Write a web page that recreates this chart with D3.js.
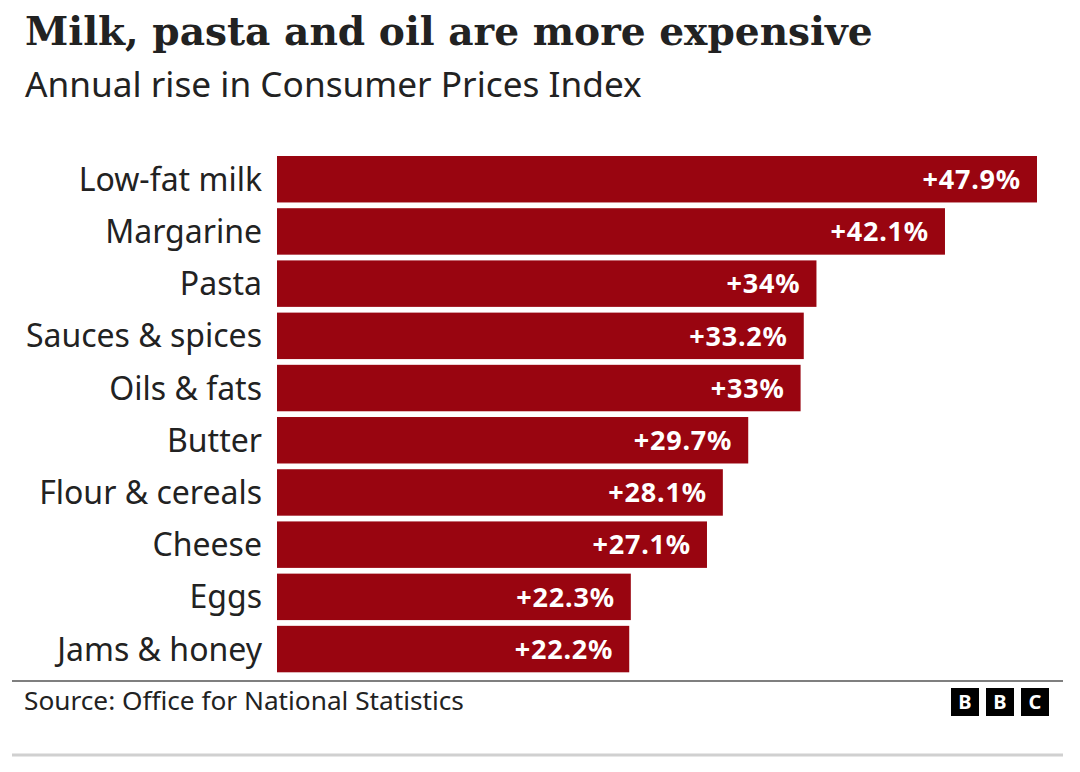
<!DOCTYPE html>
<html><head><meta charset="utf-8">
<script src="https://cdn.jsdelivr.net/npm/d3@7"></script>
<style>
html,body{margin:0;padding:0;background:#fff;}
svg{display:block;}
</style></head>
<body>
<script>
const categories = ["Low-fat milk","Margarine","Pasta","Sauces & spices","Oils & fats","Butter","Flour & cereals","Cheese","Eggs","Jams & honey"];
const values = [47.9, 42.1, 34, 33.2, 33, 29.7, 28.1, 27.1, 22.3, 22.2];
const valueLabels = ["+47.9%","+42.1%","+34%","+33.2%","+33%","+29.7%","+28.1%","+27.1%","+22.3%","+22.2%"];
const title = "Milk, pasta and oil are more expensive";
const subtitle = "Annual rise in Consumer Prices Index";
const source = "Source: Office for National Statistics";
const logoLetters = ["B","B","C"];

const W = 1080, H = 772;
const SANS = "'Noto Sans', 'Open Sans', sans-serif";
const SERIF = "'DejaVu Serif', serif";
const svg = d3.select("body").append("svg").attr("width", W).attr("height", H);

function fitText(sel, width) {
  const len = sel.node().getComputedTextLength();
  const fs = parseFloat(sel.attr("font-size"));
  sel.attr("font-size", fs * width / len);
}

const t = svg.append("text").attr("x", 25).attr("y", 45)
  .attr("font-family", SERIF).attr("font-weight", 700).attr("font-size", 44)
  .attr("fill", "#222").text(title);
fitText(t, 848);

const st = svg.append("text").attr("x", 25).attr("y", 97)
  .attr("font-family", SANS).attr("font-size", 32)
  .attr("fill", "#222").text(subtitle);
fitText(st, 617);

const x = d3.scaleLinear().domain([0, 47.9]).range([277, 1037]);
const y = d3.scaleBand().domain(categories).range([156, 672.3]).paddingInner(0.11).paddingOuter(0);

const data = categories.map((c, i) => ({c, v: values[i], l: valueLabels[i]}));

svg.append("g").selectAll("rect").data(data).join("rect")
  .attr("x", x(0)).attr("y", d => y(d.c))
  .attr("width", d => x(d.v) - x(0)).attr("height", y.bandwidth())
  .attr("fill", "#990510");

svg.append("g").selectAll("text").data(data).join("text")
  .attr("x", x(0) - 15).attr("y", d => y(d.c) + y.bandwidth() / 2)
  .attr("dy", "0.36em").attr("text-anchor", "end")
  .attr("font-family", SANS).attr("font-size", 32).attr("fill", "#222")
  .text(d => d.c);

svg.append("g").selectAll("text").data(data).join("text")
  .attr("x", d => x(d.v) - 16).attr("y", d => y(d.c) + y.bandwidth() / 2)
  .attr("dy", "0.36em").attr("text-anchor", "end")
  .attr("font-family", SANS).attr("font-weight", 700).attr("font-size", 27)
  .attr("letter-spacing", 0.8).attr("fill", "#fff")
  .text(d => d.l);

svg.append("line").attr("x1", 12).attr("x2", 1063).attr("y1", 681).attr("y2", 681)
  .attr("stroke", "#555").attr("stroke-width", 1.5);

const src = svg.append("text").attr("x", 24).attr("y", 710)
  .attr("font-family", SANS).attr("font-size", 24).attr("fill", "#222").text(source);
fitText(src, 440);

const logo = svg.append("g");
logoLetters.forEach((L, i) => {
  const bx = 951 + i * 35;
  logo.append("rect").attr("x", bx).attr("y", 688).attr("width", 28).attr("height", 28).attr("fill", "#000");
  logo.append("text").attr("x", bx + 14).attr("y", 702).attr("dy", "0.36em")
    .attr("text-anchor", "middle").attr("font-family", SANS).attr("font-weight", 700)
    .attr("font-size", 20).attr("fill", "#fff").text(L);
});

svg.append("line").attr("x1", 12).attr("x2", 1063).attr("y1", 755).attr("y2", 755)
  .attr("stroke", "#d0d0d0").attr("stroke-width", 3);
</script>
</body></html>
